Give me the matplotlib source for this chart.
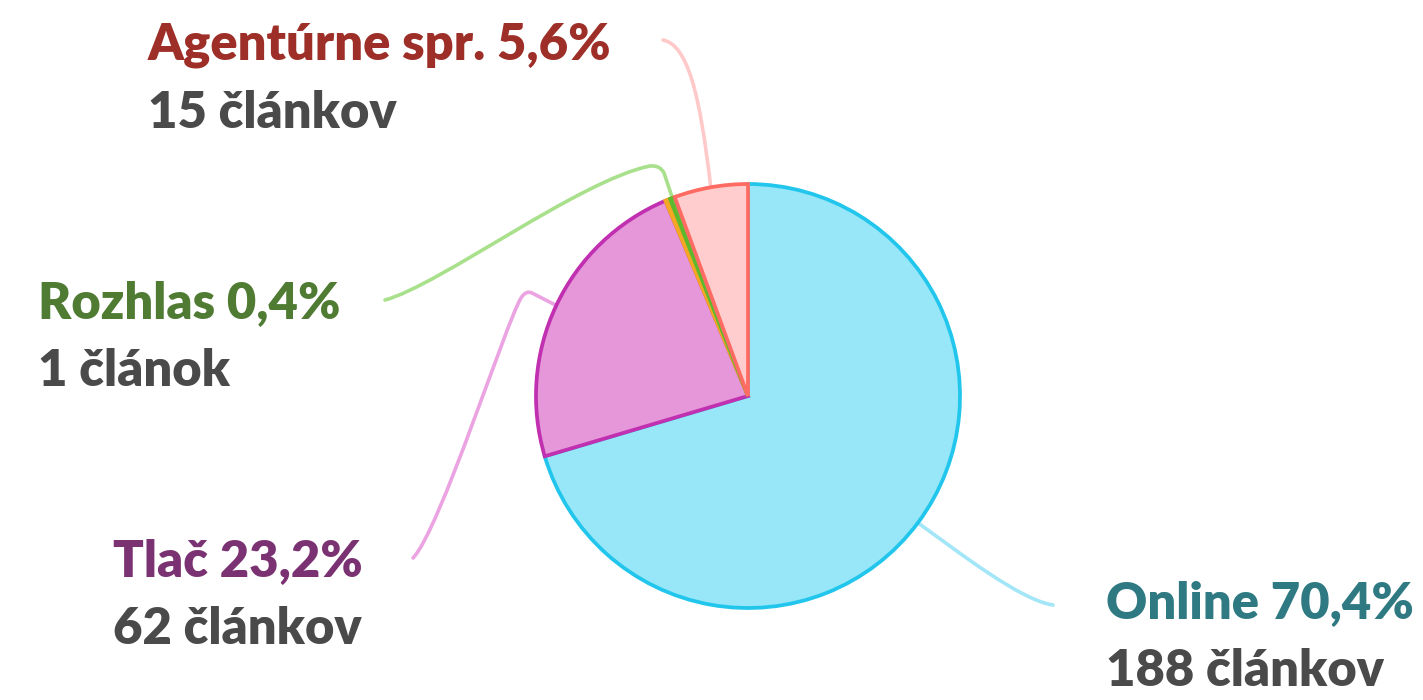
import numpy as np
import matplotlib
matplotlib.use("Agg")
import matplotlib.pyplot as plt
from matplotlib.path import Path
from matplotlib.patches import PathPatch

# ---- data ----
categories = ["Online", "Tlač", "Iné", "Rozhlas", "Agentúrne spr."]
counts = [188, 62, 1, 1, 15]
pct_labels = ["70,4%", "23,2%", "0,4%", "0,4%", "5,6%"]
count_labels = ["188 článkov", "62 článkov", "1 článok", "1 článok", "15 článkov"]
show_label = [True, True, False, True, True]

# ---- styles ----
fills = ["#97E7F8", "#E597D9", "#F5A623", "#6CBF3A", "#FFCDCD"]
edges = ["#22C6EC", "#C030B0", "#F5A623", "#5DB82E", "#FF6B63"]
conn_colors = ["#A3E6F7", "#EBA3E1", None, "#A9E08C", "#FFC9C9"]
title_colors = ["#2F7A82", "#7B3272", None, "#4F7B33", "#9E2F28"]
count_color = "#4A4A4A"

W, H = 1423, 700
fig = plt.figure(figsize=(W / 100, H / 100), dpi=100)
ax = fig.add_axes([0, 0, 1, 1])

cx, cy, R = 748, H - 396, 212
wedges, _ = ax.pie(counts, colors=fills, startangle=90, counterclock=False,
                   center=(cx, cy), radius=R, frame=True,
                   wedgeprops=dict(linewidth=2.7, joinstyle="miter"))
for w, ec in zip(wedges, edges):
    w.set_edgecolor(ec)
ax.set_xlim(0, W)
ax.set_ylim(0, H)
ax.set_aspect("equal")
ax.axis("off")

def mid_point(w):
    a = np.deg2rad((w.theta1 + w.theta2) / 2)
    return cx + R * np.cos(a), cy + R * np.sin(a)

def P(x, y):
    return (x, H - y)

# connector shapes (pixel coordinates, y from top) after the wedge midpoint
shapes = {
    0: ([Path.CURVE4] * 3, [(960, 553), (1020, 600), (1053, 605)]),
    1: ([Path.LINETO, Path.CURVE3, Path.CURVE3, Path.CURVE4, Path.CURVE4, Path.CURVE4],
        [(532, 293), (526, 290), (521, 298), (505, 325), (440, 530), (413, 558)]),
    3: ([Path.LINETO, Path.CURVE3, Path.CURVE3, Path.CURVE4, Path.CURVE4, Path.CURVE4],
        [(664, 173), (660, 165), (650, 166), (580, 180), (440, 285), (385, 300)]),
    4: ([Path.CURVE4] * 3, [(700, 95), (688, 45), (663, 40)]),
}
for i, (codes, pts) in shapes.items():
    start = mid_point(wedges[i])
    verts = [start] + [P(x, y) for x, y in pts]
    path = Path(verts, [Path.MOVETO] + codes)
    ax.add_patch(PathPatch(path, facecolor="none", edgecolor=conn_colors[i],
                           linewidth=2.6, capstyle="round", joinstyle="round", zorder=0))

# label positions (left x, first baseline y) in pixels from top-left
label_pos = {0: (1106, 618), 1: (113, 576), 3: (38, 318), 4: (148, 60)}
line_gap = 68
fs = 36.5
for i, (x, y) in label_pos.items():
    fig.text(x / W, 1 - y / H, f"{categories[i]} {pct_labels[i]}", color=title_colors[i],
             fontsize=fs, fontweight="heavy", family="Lato", ha="left", va="baseline")
    fig.text(x / W, 1 - (y + line_gap) / H, count_labels[i], color=count_color,
             fontsize=fs, fontweight="heavy", family="Lato", ha="left", va="baseline")

fig.savefig("out.png", dpi=100, facecolor="white")
